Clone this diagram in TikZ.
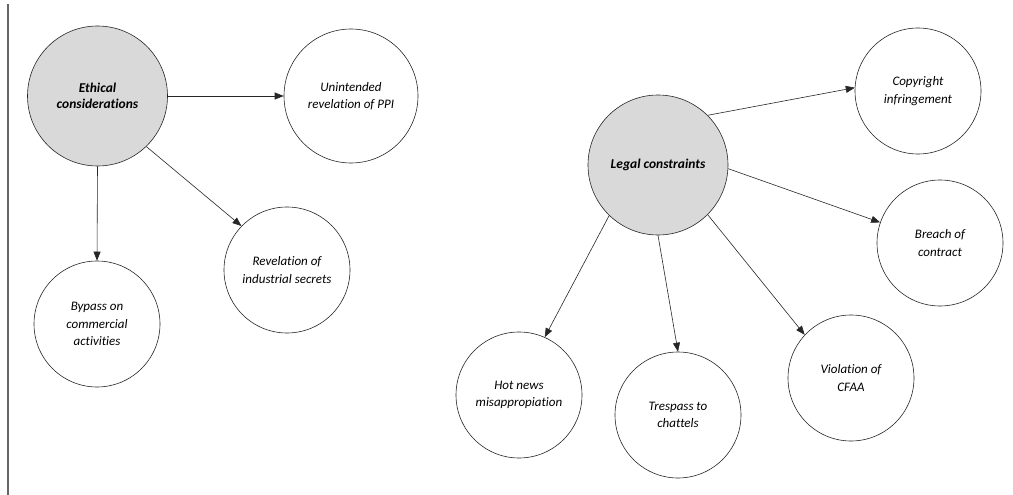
\documentclass[tikz,border=0pt]{standalone}
\usepackage{fontspec}
\setmainfont[Ligatures=NoCommon]{Carlito}
\usetikzlibrary{arrows.meta}
\tikzset{
  topic/.style={circle, draw=black!85, line width=0.6pt, fill=gray!30,
    minimum size=140pt, inner sep=0pt, align=center,
    font=\fontsize{13.5}{15.5}\selectfont\bfseries\itshape},
  leaf/.style={circle, draw=black!85, line width=0.6pt, fill=white,
    minimum size=126pt, inner sep=0pt, align=center,
    font=\fontsize{13}{17.5}\selectfont\itshape},
  link/.style={draw=black!85, line width=0.6pt,
    -{Triangle[length=9pt,width=7pt]}}
}
\begin{document}
\begin{tikzpicture}[x=1pt,y=-1pt]
\useasboundingbox (0,0) rectangle (1013,495);
% margin rule on the left
\draw[gray!80!black, line width=1.3pt] (8,4) -- (8,495);

% ethical branch
\node[topic] (eth) at (97.5,96) {Ethical\\considerations};
\node[leaf, minimum size=134pt] (ppi) at (351,96) {Unintended\\revelation of PPI};
\node[leaf] (byp) at (97,324) {Bypass on\\commercial\\activities};
\node[leaf] (ind) at (287,270) {Revelation of\\industrial secrets};

\draw[link] (eth.0) -- (ppi.180);
\draw[link] (eth.-90) -- (byp.90);
\draw[link] (eth.-46) -- (ind.136);

% legal branch
\node[topic] (leg) at (658,165) {Legal constraints};
\node[leaf] (cop) at (918,91) {Copyright\\infringement};
\node[leaf] (bre) at (940,243) {Breach of\\contract};
\node[leaf] (hot) at (519,395) {Hot news\\misappropiation};
\node[leaf] (tre) at (678,415) {Trespass to\\chattels};
\node[leaf] (cfa) at (851,378) {Violation of\\CFAA};

\draw[link] (leg.45) -- (cop.177);
\draw[link] (leg.-3) -- (bre.161);
\draw[link] (leg.226) -- (hot.66);
\draw[link] (leg.-90) -- (tre.90);
\draw[link] (leg.-45) -- (cfa.137);
\end{tikzpicture}
\end{document}
